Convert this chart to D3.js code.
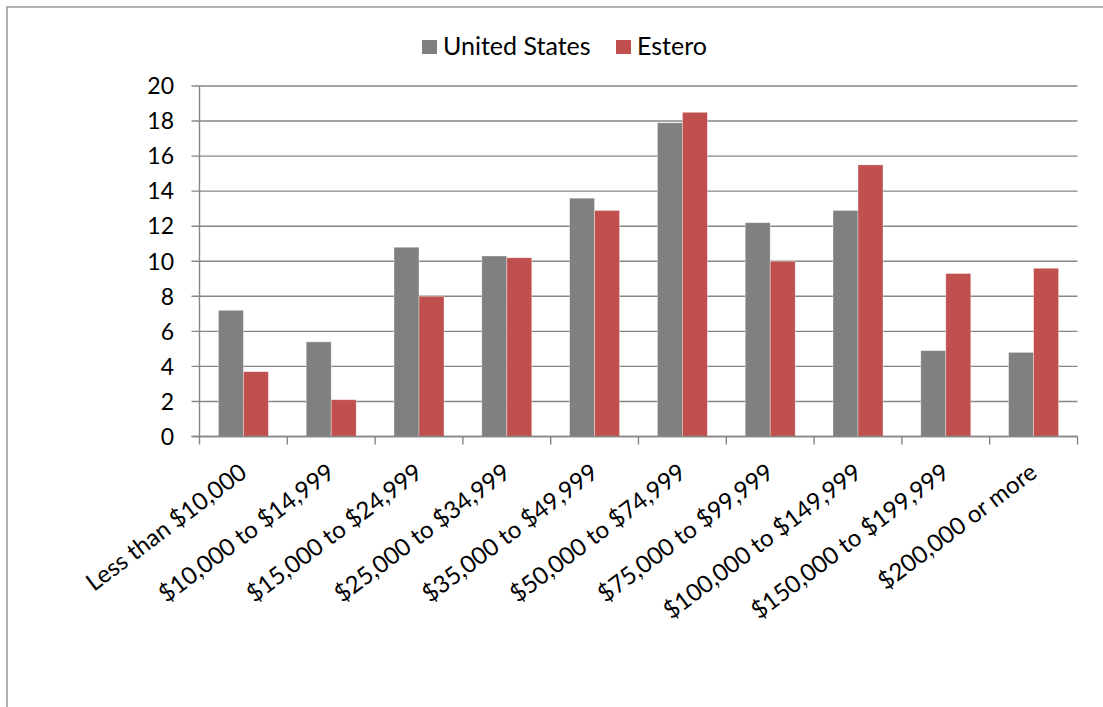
<!DOCTYPE html>
<html>
<head>
<meta charset="utf-8">
<script src="https://cdn.jsdelivr.net/npm/d3@7"></script>
<style>
  html, body { margin: 0; padding: 0; background: #fff; }
  svg { display: block; }
  text { font-family: Lato, "Open Sans", sans-serif; fill: #000; }
</style>
</head>
<body>
<svg id="chart" width="1103" height="707"></svg>
<script>
const categories = [
  "Less than $10,000", "$10,000 to $14,999", "$15,000 to $24,999",
  "$25,000 to $34,999", "$35,000 to $49,999", "$50,000 to $74,999",
  "$75,000 to $99,999", "$100,000 to $149,999", "$150,000 to $199,999",
  "$200,000 or more"
];
const seriesNames = ["United States", "Estero"];
const unitedStates = [7.2, 5.4, 10.8, 10.3, 13.6, 17.9, 12.2, 12.9, 4.9, 4.8];
const estero = [3.7, 2.1, 8.0, 10.2, 12.9, 18.5, 10.0, 15.5, 9.3, 9.6];
const yTicks = [0, 2, 4, 6, 8, 10, 12, 14, 16, 18, 20];
const colors = ["#808080", "#C0504D"];

const svg = d3.select("#chart");
const plotLeft = 199.5, plotRight = 1077.5, plotTop = 86, plotBottom = 436.5;
const gridColor = "#868686";

// outer frame
svg.append("rect")
  .attr("x", 7).attr("y", 7).attr("width", 1200).attr("height", 800)
  .attr("fill", "none").attr("stroke", "#878787").attr("stroke-width", 1.3);

const x0 = d3.scaleBand().domain(categories).range([plotLeft, plotRight]).paddingInner(0).paddingOuter(0);
const x1 = d3.scaleBand().domain(seriesNames).range([0, x0.bandwidth()]).paddingInner(0).paddingOuter(0.756);
const y = d3.scaleLinear().domain([0, 20]).range([plotBottom, plotTop]);

// gridlines (extend left as tick marks)
svg.append("g").selectAll("line").data(yTicks).join("line")
  .attr("x1", plotLeft - 8).attr("x2", plotRight)
  .attr("y1", d => y(d)).attr("y2", d => y(d))
  .attr("stroke", gridColor).attr("stroke-width", 1.4);

// bars
const data = categories.map((c, i) => ({ c, vals: [unitedStates[i], estero[i]] }));
const groups = svg.append("g").selectAll("g").data(data).join("g")
  .attr("transform", d => `translate(${x0(d.c)},0)`);
groups.selectAll("rect").data(d => d.vals.map((v, j) => ({ name: seriesNames[j], v, j })))
  .join("rect")
  .attr("x", d => x1(d.name))
  .attr("width", x1.bandwidth())
  .attr("y", d => y(d.v))
  .attr("height", d => y(0) - y(d.v))
  .attr("fill", d => colors[d.j])
  .attr("stroke", "rgba(255,255,255,0.45)")
  .attr("stroke-width", 0.8);

// y axis line
svg.append("line")
  .attr("x1", plotLeft).attr("x2", plotLeft).attr("y1", plotTop).attr("y2", plotBottom)
  .attr("stroke", gridColor).attr("stroke-width", 1.4);
// x axis line
svg.append("line")
  .attr("x1", plotLeft - 8).attr("x2", plotRight).attr("y1", plotBottom).attr("y2", plotBottom)
  .attr("stroke", gridColor).attr("stroke-width", 1.4);

// x ticks at category boundaries
const bounds = categories.map(c => x0(c)).concat([plotRight]);
svg.append("g").selectAll("line").data(bounds).join("line")
  .attr("x1", d => d).attr("x2", d => d)
  .attr("y1", plotBottom).attr("y2", plotBottom + 8)
  .attr("stroke", gridColor).attr("stroke-width", 1.4);

// y labels
svg.append("g").selectAll("text").data(yTicks).join("text")
  .attr("x", 174).attr("y", d => y(d))
  .attr("dy", "0.36em")
  .attr("text-anchor", "end")
  .attr("font-size", 23)
  .text(d => d);

// x labels
svg.append("g").selectAll("text").data(categories).join("text")
  .attr("transform", c => `translate(${x0(c) + x0.bandwidth() / 2 + 5},${plotBottom + 39}) rotate(-37)`)
  .attr("text-anchor", "end")
  .attr("font-size", 24)
  .text(c => c);

// legend
const legend = svg.append("g");
const legendItems = [
  { name: seriesNames[0], color: colors[0], x: 422 },
  { name: seriesNames[1], color: colors[1], x: 616 }
];
legendItems.forEach(it => {
  legend.append("rect").attr("x", it.x).attr("y", 40).attr("width", 15).attr("height", 14).attr("fill", it.color);
  legend.append("text").attr("x", it.x + 21).attr("y", 54.5).attr("font-size", 25).text(it.name);
});
</script>
</body>
</html>
